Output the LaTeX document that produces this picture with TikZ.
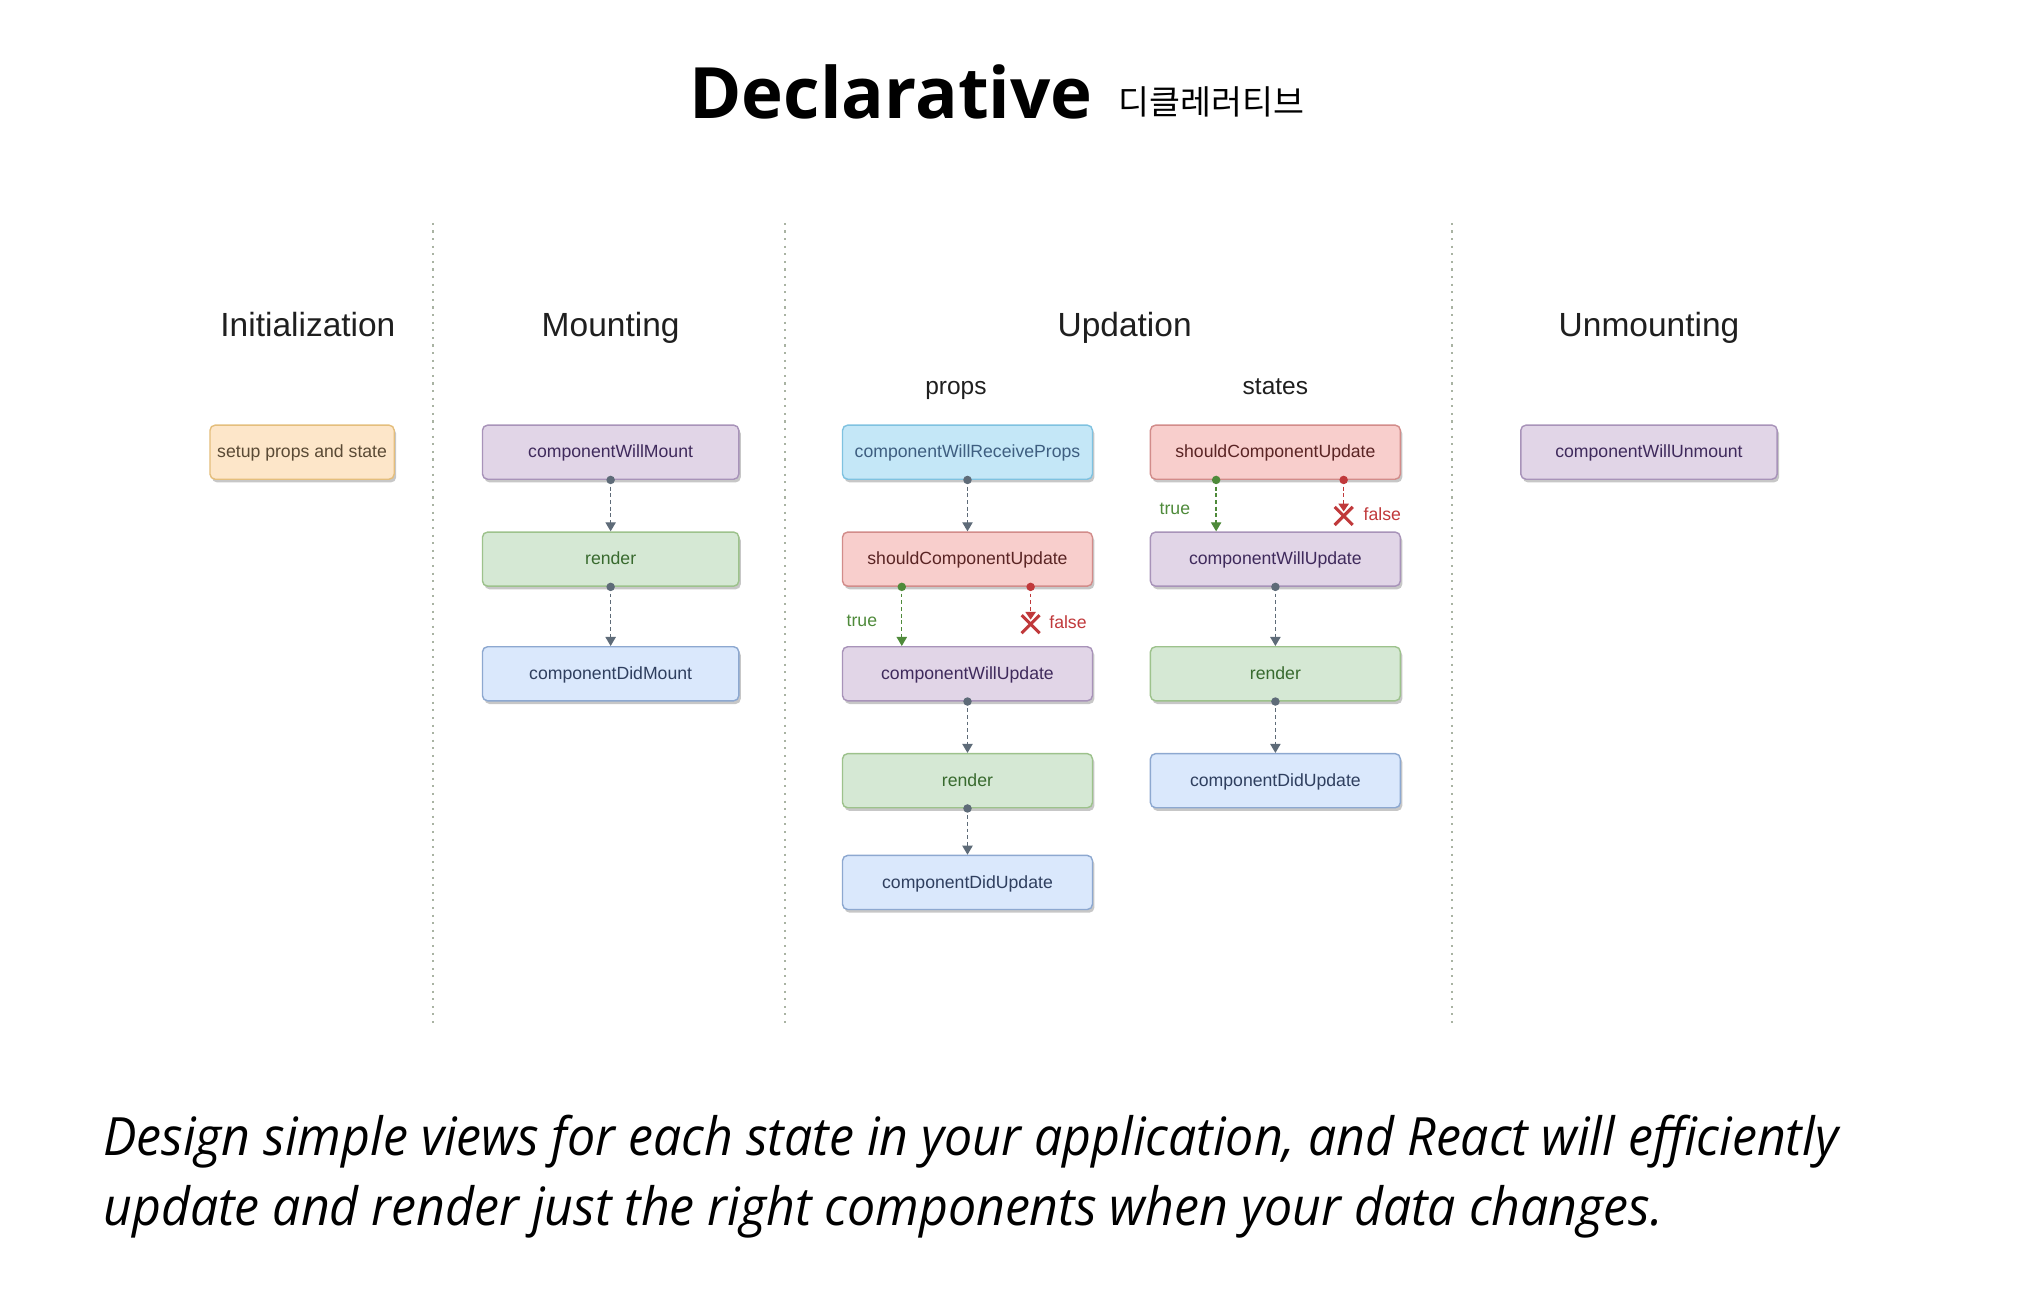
\documentclass[tikz,border=0pt]{standalone}
\usepackage{graphicx}
\usepackage{fontspec}
\setmainfont{Liberation Sans}
\newfontfamily\titlefont{Open Sans}
\newfontfamily\bodyfont{Open Sans}
\newfontfamily\krfont{Noto Sans CJK KR}
\usetikzlibrary{shadows,arrows.meta}

\definecolor{purfill}{HTML}{E1D5E7}\definecolor{purdraw}{HTML}{A893B9}\definecolor{purtext}{HTML}{3F2A5C}
\definecolor{grnfill}{HTML}{D5E8D4}\definecolor{grndraw}{HTML}{9DC28C}\definecolor{grntext}{HTML}{386A2E}
\definecolor{blufill}{HTML}{DAE8FC}\definecolor{bludraw}{HTML}{8DA8D0}\definecolor{blutext}{HTML}{2F3F5F}
\definecolor{cyafill}{HTML}{C4E7F7}\definecolor{cyadraw}{HTML}{7FC2E0}\definecolor{cyatext}{HTML}{3E5E80}
\definecolor{redfill}{HTML}{F8CECC}\definecolor{reddraw}{HTML}{D28C8A}\definecolor{redtext}{HTML}{5A2424}
\definecolor{orafill}{HTML}{FDE6C9}\definecolor{oradraw}{HTML}{E4BE7C}\definecolor{oratext}{HTML}{5A4A35}
\definecolor{arrgray}{HTML}{5E6B78}\definecolor{arrgreen}{HTML}{4E8A3A}\definecolor{arrred}{HTML}{C0393B}
\definecolor{sepcol}{HTML}{A9B3A3}

\newsavebox\lineA
\newsavebox\lineB

\begin{document}
\sbox\lineA{\bodyfont\itshape\fontsize{41}{49}\selectfont Design simple views for each state in your application, and React will efficiently}
\sbox\lineB{\bodyfont\itshape\fontsize{41}{49}\selectfont update and render just the right components when your data changes.}
\pgfmathsetmacro\sx{1347/\the\wd\lineA}
\begin{tikzpicture}[x=1pt,y=-1pt,
  box/.style={rectangle, rounded corners=4pt, minimum height=42pt, line width=1.1pt, inner sep=0pt,
    font=\fontsize{13.7}{16}\selectfont, text height=11pt, text depth=2pt,
    drop shadow={shadow xshift=1.5pt, shadow yshift=-2.5pt, fill=black, opacity=0.22}},
  wide/.style={minimum width=199pt},
  narrow/.style={minimum width=194pt},
  pur/.style={box, fill=purfill, draw=purdraw, text=purtext},
  grn/.style={box, fill=grnfill, draw=grndraw, text=grntext},
  blu/.style={box, fill=blufill, draw=bludraw, text=blutext},
  cya/.style={box, fill=cyafill, draw=cyadraw, text=cyatext},
  rdd/.style={box, fill=redfill, draw=reddraw, text=redtext},
  ora/.style={box, fill=orafill, draw=oradraw, text=oratext, minimum width=143pt},
  flow/.style={draw=arrgray, line width=1pt, dash pattern=on 3pt off 2.2pt, -{Triangle[width=8pt,length=7pt]}},
  tflow/.style={flow, draw=arrgreen, -{Triangle[width=8pt,length=7pt,fill=arrgreen]}},
  fflow/.style={flow, draw=arrred, -{Triangle[width=8pt,length=6pt,fill=arrred]}},
  sep/.style={draw=sepcol, line width=1.6pt, dash pattern=on 1.6pt off 4.3pt},
  head/.style={font=\fontsize{26}{30}\selectfont, text=black!88, anchor=base, inner sep=0pt},
  sub/.style={font=\fontsize{19}{22}\selectfont, text=black!88, anchor=base, inner sep=0pt},
  lbl/.style={font=\fontsize{13.7}{16}\selectfont}
]
\useasboundingbox (0,0) rectangle (1568,1002.9);

% title
\node[anchor=base west, inner sep=0pt] (title) at (535,92) {\resizebox{313pt}{!}{\titlefont\bfseries Declarative}};
\node[anchor=base west, inner sep=0pt] (kr) at (868,89) {\resizebox{144pt}{!}{\krfont 디클레러티브}};

% separators
\coordinate (s1a) at (336,173); \coordinate (s1b) at (336,797);
\coordinate (s2a) at (609,173); \coordinate (s2b) at (609,797);
\coordinate (s3a) at (1127,173); \coordinate (s3b) at (1127,797);
\draw[sep] (s1a) -- (s1b);
\draw[sep] (s2a) -- (s2b);
\draw[sep] (s3a) -- (s3b);

% headers
\node[head] (hinit) at (239,261) {Initialization};
\node[head] (hmount) at (474,261) {Mounting};
\node[head] (hupd) at (873,261) {Updation};
\node[head] (hunm) at (1280,261) {Unmounting};
\node[sub] (hprops) at (742,306) {props};
\node[sub] (hstates) at (990,306) {states};

% initialization
\node[ora] (setup) at (234.5,351) {setup props and state};

% mounting
\node[pur, wide] (cwm) at (474,351) {componentWillMount};
\node[grn, wide] (mrender) at (474,434) {render};
\node[blu, wide] (cdm) at (474,523) {componentDidMount};

% props
\node[cya, narrow] (cwrp) at (751,351) {componentWillReceiveProps};
\node[rdd, narrow] (scu1) at (751,434) {shouldComponentUpdate};
\node[pur, narrow] (cwu1) at (751,523) {componentWillUpdate};
\node[grn, narrow] (render1) at (751,606) {render};
\node[blu, narrow] (cdu1) at (751,685) {componentDidUpdate};

% states
\node[rdd, narrow] (scu2) at (990,351) {shouldComponentUpdate};
\node[pur, narrow] (cwu2) at (990,434) {componentWillUpdate};
\node[grn, narrow] (render2) at (990,523) {render};
\node[blu, narrow] (cdu2) at (990,606) {componentDidUpdate};

% unmounting
\node[pur, wide] (cwun) at (1280,351) {componentWillUnmount};

% plain flows
\foreach \a/\b in {cwm/mrender, mrender/cdm, cwrp/scu1, cwu1/render1, render1/cdu1, cwu2/render2, render2/cdu2}{
  \draw[flow] (\a.south) -- (\b.north);
  \fill[arrgray] (\a.south) circle (3.3pt);
}

% props branch
\draw[tflow] ([xshift=-51pt]scu1.south) -- ([xshift=-51pt]cwu1.north);
\fill[arrgreen] ([xshift=-51pt]scu1.south) circle (3.3pt);
\coordinate (f1) at (800,481);
\draw[fflow] ([xshift=49pt]scu1.south) -- (f1);
\fill[arrred] ([xshift=49pt]scu1.south) circle (3.3pt);
\draw[arrred, line width=2.4pt] (793,477.5) -- (807,491.5) (807,477.5) -- (793,491.5);
\node[lbl, text=arrgreen] (t1) at (669,482) {true};
\node[lbl, text=arrred] (fl1) at (829,483) {false};

% states branch
\draw[tflow] ([xshift=-46pt]scu2.south) -- ([xshift=-46pt]cwu2.north);
\fill[arrgreen] ([xshift=-46pt]scu2.south) circle (3.3pt);
\coordinate (f2) at (1043,397);
\draw[fflow] ([xshift=53pt]scu2.south) -- (f2);
\fill[arrred] ([xshift=53pt]scu2.south) circle (3.3pt);
\draw[arrred, line width=2.4pt] (1036,393.5) -- (1050,407.5) (1050,393.5) -- (1036,407.5);
\node[lbl, text=arrgreen] (t2) at (912,395) {true};
\node[lbl, text=arrred] (fl2) at (1073,399) {false};

% bottom text
\node[anchor=base west, inner sep=0pt] (body1) at (80,897) {\scalebox{\sx}[1]{\usebox\lineA}};
\node[anchor=base west, inner sep=0pt] (body2) at (80,951) {\scalebox{\sx}[1]{\usebox\lineB}};
\end{tikzpicture}
\end{document}
